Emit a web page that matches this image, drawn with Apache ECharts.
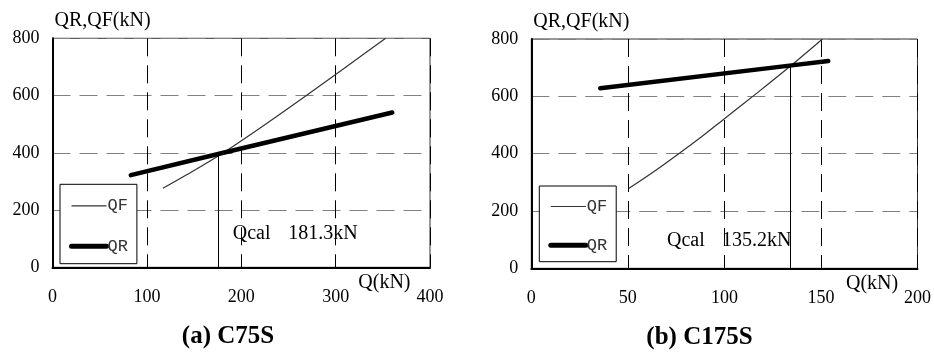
<!DOCTYPE html>
<html>
<head>
<meta charset="utf-8">
<script src="https://cdn.jsdelivr.net/npm/echarts@6/dist/echarts.min.js"></script>
<style>
html,body{margin:0;padding:0;background:#fff;}
#main{width:934px;height:354px;}
</style>
</head>
<body>
<div id="main"></div>
<script>
// ---- data: chart (a) C75S ----
const aQF_Q = [117, 150, 181, 225, 269, 311, 353];
const aQF_V = [276, 338, 400, 498, 600, 700, 800];
const aQR_Q = [83, 181, 360];
const aQR_V = [322, 400, 541];
const aQcal = [176, 400];
const aXTicks = [0, 100, 400];

// ---- data: chart (b) C175S ----
const bQF_Q = [50.4, 63, 76, 88, 100, 117, 135, 150.8];
const bQF_V = [278, 335, 398, 458, 522, 612, 710, 800];
const bQR_Q = [35.7, 134.8, 153.8];
const bQR_V = [628, 708, 723];
const bQcal = [134.3, 708];
const bXTicks = [0, 50, 200];

const yTicks = [0, 800, 200];
const seriesNames = ['QF', 'QR'];
const titles = ['(a) C75S', '(b) C175S'];
const qcalText = [['Qcal', '181.3kN'], ['Qcal', '135.2kN']];
const yName = 'QR,QF(kN)';
const xName = 'Q(kN)';

const zip = (xs, ys) => xs.map((x, i) => [x, ys[i]]);
const SERIF = 'Liberation Serif';

const chart = echarts.init(document.getElementById('main'), null, {renderer: 'canvas'});

function xAxis(idx, ticks) {
  return {
    type: 'value', gridIndex: idx, min: ticks[0], max: ticks[2], interval: ticks[1],
    axisLine: {show: true, onZero: false, lineStyle: {color: '#000', width: 2}},
    axisTick: {show: false},
    axisLabel: {fontFamily: SERIF, fontSize: 18, color: '#000', margin: 21},
    splitLine: {show: true, lineStyle: {color: '#000', type: [18, 9], width: 1}}
  };
}
function yAxis(idx, nameGap) {
  return {
    type: 'value', gridIndex: idx, min: yTicks[0], max: yTicks[1], interval: yTicks[2],
    name: yName, nameLocation: 'end', nameGap: nameGap,
    nameTextStyle: {fontFamily: SERIF, fontSize: 20, color: '#000', align: 'left', verticalAlign: 'middle', padding: [0, 0, 0, 2]},
    axisLine: {show: true, lineStyle: {color: '#000', width: 2}},
    axisTick: {show: false},
    axisLabel: {fontFamily: SERIF, fontSize: 18, color: '#000', margin: 13},
    splitLine: {show: true, lineStyle: {color: '#808080', type: [18, 9], width: 1}}
  };
}
function qcalLine(pt) {
  return {
    silent: true, symbol: 'none', label: {show: false},
    lineStyle: {color: '#000', type: 'solid', width: 1},
    data: [[{coord: [pt[0], 0]}, {coord: [pt[0], pt[1]]}]]
  };
}
const qfStyle = {color: '#333', width: 1.2};
const qrStyle = {color: '#000', width: 4.5};

function legend(left, top, gap, padTop, padBottom) {
  return {
    data: [
      {name: seriesNames[0], lineStyle: {width: 1.2, color: '#333'}},
      {name: seriesNames[1], lineStyle: {width: 5, color: '#000', cap: 'round'}}
    ],
    orient: 'vertical', left: left, top: top,
    itemWidth: 35, itemHeight: 14, itemGap: gap,
    padding: [padTop, 9, padBottom, 9],
    itemStyle: {opacity: 0, color: 'rgba(0,0,0,0)', borderWidth: 0},
    borderColor: '#000', borderWidth: 1, backgroundColor: '#fff',
    textStyle: {fontFamily: 'Liberation Mono', fontSize: 17, color: '#333', padding: [0, 0, 0, -4]},
    selectedMode: false, z: 10
  };
}

function txt(x, y, s, size) {
  return {type: 'text', x: x, y: y, z: 20,
    style: {text: s, font: size + 'px "' + SERIF + '"', fill: '#000', verticalAlign: 'middle'}};
}

const option = {
  animation: false,
  backgroundColor: '#fff',
  grid: [
    {left: 52.5, top: 38.3, width: 377.5, height: 229, show: true, borderColor: '#333', borderWidth: 1, containLabel: false},
    {left: 531.3, top: 39, width: 387.4, height: 229.3, show: true, borderColor: '#333', borderWidth: 1, containLabel: false}
  ],
  xAxis: [xAxis(0, aXTicks), xAxis(1, bXTicks)],
  yAxis: [yAxis(0, 18), yAxis(1, 17)],
  legend: [legend(60, 184.3, 23.4, 13, 9), legend(539.3, 186, 21.7, 12, 8)],
  series: [
    {name: seriesNames[0], type: 'line', xAxisIndex: 0, yAxisIndex: 0, symbol: 'none', smooth: 0.3,
     data: zip(aQF_Q, aQF_V), lineStyle: qfStyle, itemStyle: {color: '#333'}, z: 3},
    {name: seriesNames[1], type: 'line', xAxisIndex: 0, yAxisIndex: 0, symbol: 'none',
     data: zip(aQR_Q, aQR_V), lineStyle: Object.assign({cap: 'round'}, qrStyle), itemStyle: {color: '#000'}, z: 4,
     markLine: qcalLine(aQcal)},
    {name: seriesNames[0], type: 'line', xAxisIndex: 1, yAxisIndex: 1, symbol: 'none', smooth: 0.3,
     data: zip(bQF_Q, bQF_V), lineStyle: qfStyle, itemStyle: {color: '#333'}, z: 3},
    {name: seriesNames[1], type: 'line', xAxisIndex: 1, yAxisIndex: 1, symbol: 'none',
     data: zip(bQR_Q, bQR_V), lineStyle: Object.assign({cap: 'round'}, qrStyle), itemStyle: {color: '#000'}, z: 4,
     markLine: qcalLine(bQcal)}
  ],
  graphic: [
    txt(358.3, 283, xName, 20),
    txt(846, 283.3, xName, 20),
    txt(232.7, 234, qcalText[0][0], 20),
    txt(288.3, 234, qcalText[0][1], 20),
    txt(667, 240.5, qcalText[1][0], 20),
    txt(722, 240.5, qcalText[1][1], 20),
    {type: 'text', x: 228, y: 337, z: 20, style: {text: titles[0], font: 'bold 25px "' + SERIF + '"', fill: '#000', align: 'center', verticalAlign: 'middle'}},
    {type: 'text', x: 699.5, y: 338, z: 20, style: {text: titles[1], font: 'bold 25px "' + SERIF + '"', fill: '#000', align: 'center', verticalAlign: 'middle'}}
  ]
};
chart.setOption(option);
</script>
</body>
</html>
